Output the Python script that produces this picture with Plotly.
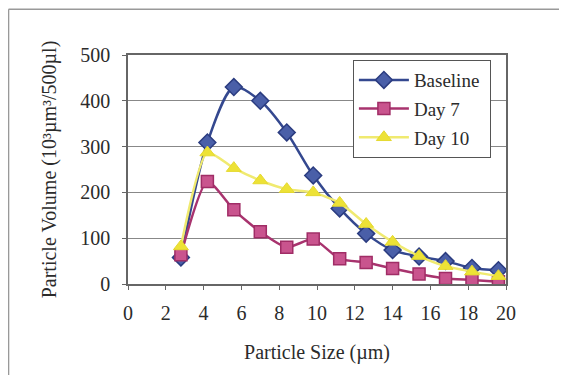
import plotly.graph_objects as go

sizes = [2.8, 4.2, 5.6, 7.0, 8.4, 9.8, 11.2, 12.6, 14.0, 15.4, 16.8, 18.2, 19.6]
baseline = [58, 309, 430, 400, 331, 237, 165, 110, 74, 60, 50, 35, 30]
day7 = [64, 224, 162, 114, 80, 98, 55, 47, 34, 22, 12, 9, 5]
day10 = [82, 287, 253, 226, 207, 200, 177, 131, 92, 61, 39, 27, 17]
y_ticks = [0, 100, 200, 300, 400, 500]
x_ticks = [0, 2, 4, 6, 8, 10, 12, 14, 16, 18, 20]

font = "Liberation Serif, Times New Roman, serif"
txt = "#2b2b2b"

fig = go.Figure()
fig.add_trace(go.Scatter(
    x=sizes, y=baseline, name="Baseline ", mode="lines+markers", legendgroup="a",
    line=dict(color="#34488F", width=2.5, shape="spline", smoothing=0.8),
    marker=dict(symbol="diamond", size=13, color="#4A5FA8", line=dict(color="#2B3C80", width=1.5)),
))
fig.add_trace(go.Scatter(
    x=sizes, y=day7, name="Day 7", mode="lines+markers", legendgroup="b",
    line=dict(color="#A8336E", width=2.5, shape="spline", smoothing=0.6),
    marker=dict(symbol="square", size=12, color="#C9548E", line=dict(color="#A02D66", width=1.5)),
))
fig.add_trace(go.Scatter(
    x=sizes, y=day10, name="Day 10", mode="lines+markers", legendgroup="c",
    line=dict(color="#F0EA70", width=2.5, shape="spline", smoothing=0.6),
    marker=dict(symbol="triangle-up", size=13, color="#EDE236", line=dict(color="#E5D930", width=1)),
))

fig.update_layout(
    width=567, height=375,
    margin=dict(l=120, r=69, t=47, b=99),
    paper_bgcolor="white", plot_bgcolor="white",
    font=dict(family=font, size=20, color=txt),
    showlegend=True,
    legend=dict(
        x=0.595, y=0.978, xanchor="left", yanchor="top",
        bgcolor="white", bordercolor="#555555", borderwidth=1,
        font=dict(family=font, size=19, color=txt),
        itemwidth=50, tracegroupgap=1,
    ),
    xaxis=dict(
        range=[0, 20], tickvals=x_ticks, showgrid=False, zeroline=False,
        showline=True, linecolor="#666666", linewidth=1.5, mirror=True,
        ticks="outside", ticklen=4, tickcolor="#666666", ticklabelstandoff=6,
        tickfont=dict(family=font, size=20, color=txt),
        title=dict(text="Particle Size (µm)", font=dict(family=font, size=20, color=txt), standoff=22),
    ),
    yaxis=dict(
        range=[0, 500], tickvals=y_ticks, showgrid=True, gridcolor="#888888", gridwidth=1,
        zeroline=False, showline=True, linecolor="#666666", linewidth=1.5, mirror=True,
        ticks="outside", ticklen=4, tickcolor="#666666", ticklabelstandoff=8,
        tickfont=dict(family=font, size=20, color=txt),
        title=dict(text="Particle Volume (10³µm³/500µl)", font=dict(family=font, size=20, color=txt), standoff=18),
    ),
    shapes=[
        dict(type="line", xref="paper", yref="paper", x0=-0.316, x1=1.18, y0=1.2, y1=1.2,
             line=dict(color="#999999", width=1.5)),
        dict(type="line", xref="paper", yref="paper", x0=-0.316, x1=-0.316, y0=1.2, y1=-0.43,
             line=dict(color="#999999", width=1.5)),
    ],
)

fig.write_html("out.html")
